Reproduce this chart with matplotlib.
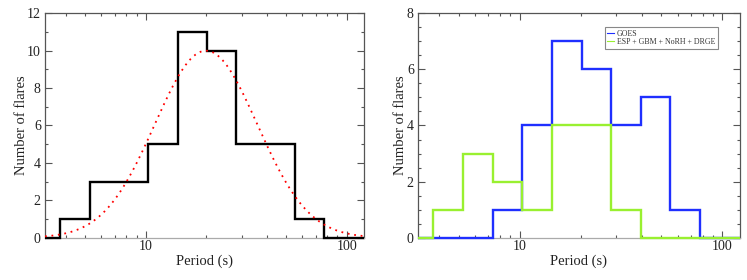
import numpy as np
import matplotlib
matplotlib.use("Agg")
import matplotlib.pyplot as plt
from matplotlib.ticker import FixedLocator, NullFormatter, MultipleLocator

plt.rcParams['font.family'] = ['Liberation Serif', 'DejaVu Serif']

# Bin edges (s), log-spaced
bin_edges = [3.75, 5.25, 7.35, 10.3, 14.4, 20.2, 28.2, 39.5, 55.3, 77.4]
all_counts = [1, 3, 3, 5, 11, 10, 5, 5, 1]
goes_counts = [0, 0, 1, 4, 7, 6, 4, 5, 1]
other_counts = [1, 3, 2, 1, 4, 4, 1, 0, 0]

# Log-normal (Gaussian in log10 period) fit parameters
fit_amp = 10.0
fit_center = 1.30   # log10(s)
fit_sigma = 0.255   # log10(s)

xlim = (3.15, 122.0)

fig = plt.figure(figsize=(7.47, 2.80), dpi=100)
ax1 = fig.add_axes([45/747, 1-237.7/280, 319/747, 224.4/280])
ax2 = fig.add_axes([418/747, 1-237.7/280, 322/747, 224.4/280])

def stair(ax, counts, color, z):
    edges = [xlim[0]] + bin_edges + [xlim[1]]
    vals = [0] + list(counts) + [0]
    ax.stairs(vals, edges, color=color, lw=1.7, zorder=z, clip_on=False, baseline=None)

stair(ax1, all_counts, 'black', 3)
xs = np.logspace(np.log10(xlim[0]), np.log10(xlim[1]), 400)
ys = fit_amp * np.exp(-0.5 * ((np.log10(xs) - fit_center) / fit_sigma) ** 2)
ax1.plot(xs, ys, color='red', lw=1.3, ls=(0, (1, 2.6)), zorder=4)

stair(ax2, goes_counts, '#1f2fff', 3)
stair(ax2, other_counts, '#99f030', 4)
ax2.plot([], [], color='#1f2fff', lw=0.8, label='GOES')
ax2.plot([], [], color='#99f030', lw=0.8, label='ESP + GBM + NoRH + DRGE')
leg = ax2.legend(loc='upper right', bbox_to_anchor=(0.943, 0.955), fontsize=5.7,
                 handlelength=0.8, handletextpad=0.4, borderpad=0.3, labelspacing=0.05,
                 fancybox=False, framealpha=1, edgecolor='#888888')
leg.get_frame().set_linewidth(0.8)
for t in leg.get_texts():
    t.set_color('#333333')

for ax, ymax, minor, ylx in [(ax1, 12, 1, -0.053), (ax2, 8, 0.5, -0.034)]:
    ax.set_xscale('log')
    ax.set_xlim(*xlim)
    ax.set_ylim(0, ymax)
    ax.xaxis.set_major_locator(FixedLocator([10, 100]))
    ax.xaxis.set_minor_locator(FixedLocator([4, 5, 6, 7, 8, 9, 20, 30, 40, 50, 60, 70, 80, 90]))
    ax.xaxis.set_minor_formatter(NullFormatter())
    ax.set_xticklabels(['10', '100'])
    ax.yaxis.set_major_locator(MultipleLocator(2))
    ax.yaxis.set_minor_locator(MultipleLocator(minor))
    ax.tick_params(which='both', direction='in', top=True, right=True, colors='#555555',
                   labelcolor='#222222', labelsize=10)
    ax.tick_params(which='major', length=5, width=0.8)
    ax.tick_params(which='minor', length=2.5, width=0.8)
    ax.tick_params(axis='y', pad=3)
    ax.tick_params(axis='x', pad=2)
    for s in ax.spines.values():
        s.set_color('#555555')
        s.set_linewidth(0.9)
    ax.spines['bottom'].set_color('#aaaaaa')
    ax.set_xlabel('Period (s)', fontsize=10.5, color='#222222', labelpad=1)
    ax.set_ylabel('Number of flares', fontsize=10.5, color='#222222')
    ax.yaxis.set_label_coords(ylx, 0.5)

fig.savefig('out.png', dpi=100)
